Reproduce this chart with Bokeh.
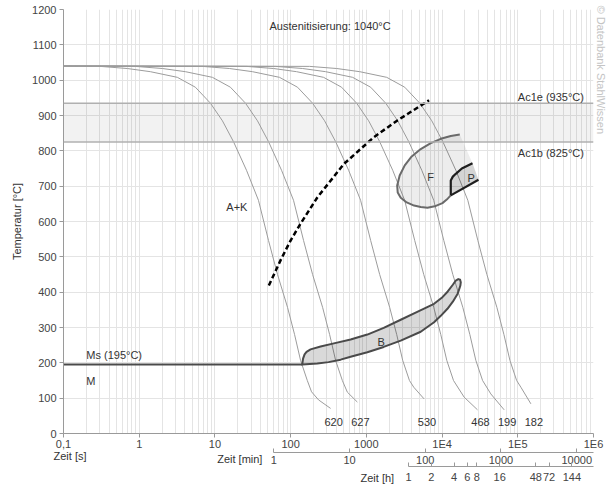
import math
import numpy as np
from bokeh.plotting import figure
from bokeh.models import (Range1d, LogAxis, LogScale, FixedTicker, Label, Span, Title,
                          CustomJSTickFormatter, BasicTickFormatter)
from bokeh.core.properties import value
from bokeh.embed import file_html
from bokeh.resources import INLINE

FONT = "Liberation Sans"

# ---------------- data ----------------
austenitizing_T = 1040
ac1e = 935
ac1b = 825
ms_T = 195

sec_ticks = [0.1, 1, 10, 100, 1000, 1e4, 1e5, 1e6]
sec_tick_labels = ["0,1", "1", "10", "100", "1000", "1E4", "1E5", "1E6"]
min_ticks = [1, 10, 100, 1000, 10000]
hour_ticks = [1, 2, 4, 6, 8, 16, 48, 72, 144]
temp_ticks = [0, 100, 200, 300, 400, 500, 600, 700, 800, 900, 1000, 1100, 1200]

# cooling curves: log10(time [s]) and temperature [°C]
curve_A_lt = [-1, -0.515, -0.157, 0.147, 0.504, 0.742, 0.940, 1.099, 1.245, 1.417, 1.575,
              1.708, 1.827, 1.959, 2.052, 2.131, 2.220, 2.276, 2.369, 2.528]
curve_A_T = [1040, 1039, 1033, 1024, 1008, 980, 935, 885, 826, 745, 660,
             546, 450, 357, 280, 207, 150, 118, 95, 71]
curve_B_lt = [-1, -0.052, 0.306, 0.610, 0.967, 1.205, 1.403, 1.562, 1.708, 1.880, 2.038,
              2.171, 2.290, 2.422, 2.515, 2.594, 2.683, 2.749, 2.881]
curve_B_T = [1040, 1039, 1033, 1024, 1008, 980, 935, 885, 826, 745, 660,
             546, 450, 357, 280, 207, 150, 117, 89]
curve_C_lt = [-1, 0.834, 1.192, 1.496, 1.853, 2.091, 2.289, 2.448, 2.594, 2.766, 2.924,
              3.057, 3.176, 3.308, 3.401, 3.480, 3.569, 3.626, 3.762]
curve_C_T = [1040, 1039, 1033, 1024, 1008, 980, 935, 885, 826, 745, 660,
             546, 450, 357, 280, 207, 150, 131, 98]
curve_D_lt = [-1, 1.416, 1.774, 2.078, 2.435, 2.673, 2.871, 3.030, 3.176, 3.348, 3.506,
              3.639, 3.758, 3.890, 3.983, 4.062, 4.151, 4.291, 4.468]
curve_D_T = [1040, 1039, 1033, 1024, 1008, 980, 935, 885, 826, 745, 660,
             546, 450, 357, 280, 207, 150, 103, 67]
curve_E_lt = [-1, 1.800, 2.158, 2.462, 2.819, 3.057, 3.255, 3.414, 3.560, 3.732, 3.890,
              4.023, 4.142, 4.274, 4.367, 4.446, 4.535, 4.644, 4.820]
curve_E_T = [1040, 1039, 1033, 1024, 1008, 980, 935, 885, 826, 745, 660,
             546, 450, 357, 280, 207, 150, 112, 67]
curve_F_lt = [-1, 2.250, 2.608, 2.912, 3.269, 3.507, 3.705, 3.864, 4.010, 4.182, 4.340,
              4.473, 4.592, 4.724, 4.817, 4.896, 4.985, 5.041, 5.173]
curve_F_T = [1040, 1039, 1033, 1024, 1008, 980, 935, 885, 826, 745, 660,
             546, 450, 357, 280, 207, 150, 131, 84]
hardness = ["620", "627", "530", "468", "199", "182"]

# critical cooling (dashed) line
crit_lt = [1.712, 1.866, 1.999, 2.131, 2.352, 2.704, 3.101, 3.410, 3.828]
crit_T = [419, 490, 546, 594, 668, 763, 839, 886, 943]

# bainite region outline (upper edge, tip, lower edge)
bain_lt = [2.153, 2.164, 2.184, 2.210, 2.263, 2.396, 2.571, 2.792, 3.013, 3.229, 3.454,
           3.679, 3.894, 3.996, 4.075, 4.142, 4.181, 4.214, 4.238, 4.247, 4.241, 4.221,
           4.204, 4.142, 4.071, 3.983, 3.894, 3.718, 3.454, 3.229, 3.013, 2.792, 2.660,
           2.501, 2.352, 2.153]
bain_T = [195, 212, 224, 231, 238, 246, 255, 266, 280, 299, 322,
          345, 367, 384, 402, 421, 433, 437, 435, 428, 418, 405,
          395, 373, 353, 333, 315, 288, 263, 245, 230, 217, 209,
          202, 198, 195]

# ferrite region outline (open on the right)
ferr_lt = [4.234, 4.115, 3.983, 3.851, 3.718, 3.599, 3.507, 3.440, 3.407, 3.414, 3.454,
           3.533, 3.630, 3.718, 3.807, 3.903, 4.005, 4.062, 4.115]
ferr_T = [846, 842, 834, 822, 805, 784, 759, 730, 702, 682, 667,
          654, 645, 641, 639, 643, 652, 662, 674]

# pearlite region: upper boundary and lower boundary
pearl_up_lt = [4.115, 4.115, 4.142, 4.181, 4.261, 4.402]
pearl_up_T = [674, 716, 727, 735, 750, 765]
pearl_lo_lt = [4.115, 4.481]
pearl_lo_T = [674, 718]

# ---------------- figure ----------------
p = figure(width=610, height=484, x_axis_type="log",
           x_range=Range1d(0.1, 1e6), y_range=Range1d(0, 1200),
           output_backend="svg", toolbar_location=None,
           min_border_left=63, min_border_right=17, min_border_top=9, min_border_bottom=51)
p.outline_line_color = None
p.background_fill_color = "white"
p.border_fill_color = "white"

minor = [k * 10.0 ** n for n in range(-1, 6) for k in range(2, 10)]
p.xaxis[0].ticker = FixedTicker(ticks=sec_ticks, minor_ticks=minor)
p.xaxis[0].formatter = CustomJSTickFormatter(
    args=dict(tk=sec_ticks, lb=sec_tick_labels),
    code="""
    let best = 0, bd = 1e9;
    for (let i = 0; i < tk.length; i++) {
        const d = Math.abs(Math.log10(tk[i]) - Math.log10(tick));
        if (d < bd) { bd = d; best = i; }
    }
    return lb[best];
    """)
p.yaxis[0].ticker = FixedTicker(ticks=temp_ticks)

for ax in [p.xaxis[0], p.yaxis[0]]:
    ax.axis_line_color = "#9a9a9a"
    ax.major_tick_line_color = "#9a9a9a"
    ax.minor_tick_line_color = None
    ax.major_tick_out = 4
    ax.major_tick_in = 0
    ax.major_label_text_font = FONT
    ax.major_label_text_font_size = "11px"
    ax.major_label_text_color = "#444444"
p.xaxis[0].major_label_standoff = 0
p.yaxis[0].major_label_standoff = 3
p.yaxis[0].axis_label = "Temperatur [°C]"
p.yaxis[0].axis_label_text_font = FONT
p.yaxis[0].axis_label_text_font_size = "11px"
p.yaxis[0].axis_label_text_font_style = "normal"
p.yaxis[0].axis_label_text_color = "#333333"
p.yaxis[0].axis_label_standoff = 6

p.xgrid.grid_line_color = "#e4e4e4"
p.xgrid.minor_grid_line_color = "#e4e4e4"
p.ygrid.grid_line_color = "#e4e4e4"

# extra time axes
p.extra_x_ranges = {"min": Range1d(0.1 / 60, 1e6 / 60), "h": Range1d(0.1 / 3600, 1e6 / 3600)}
p.extra_x_scales = {"min": LogScale(), "h": LogScale()}
ax_min = LogAxis(x_range_name="min", ticker=FixedTicker(ticks=min_ticks),
                 formatter=BasicTickFormatter(use_scientific=False, precision=0),
                 bounds=(1, 1e6 / 60))
ax_h = LogAxis(x_range_name="h", ticker=FixedTicker(ticks=hour_ticks),
               formatter=BasicTickFormatter(use_scientific=False, precision=0),
               bounds=(1, 1e6 / 3600))
for ax, so in [(ax_min, 3), (ax_h, 6)]:
    ax.axis_line_color = "#9a9a9a"
    ax.major_tick_line_color = "#9a9a9a"
    ax.minor_tick_line_color = None
    ax.major_tick_out = 0
    ax.major_tick_in = 4
    ax.major_label_standoff = so
    ax.major_label_text_font = FONT
    ax.major_label_text_font_size = "11px"
    ax.major_label_text_color = "#444444"
    p.add_layout(ax, "below")

# axis titles as zero-thickness titles in the bottom panel, watermark on the right
def ttl(text, offset, standoff, lh=1.2, color="#333333"):
    return Title(text=text, align="left", vertical_align="middle", offset=offset,
                 standoff=standoff, text_font=FONT, text_font_size="11px",
                 text_font_style="normal", text_color=color, text_line_height=lh)

t_s = ttl("\nZeit [s]", -10, -21.7, lh=0.6)
t_min = ttl("\nZeit [min]", 153.7, -26.6, lh=1.0)
t_h = ttl("Zeit [h]\n", 297, -25.4, lh=0.9)
main_ax = p.below[0]
p.below = [main_ax, t_s, t_min, ax_min, ax_h, t_h]
p.add_layout(ttl("© Datenbank StahlWissen", -4, 0, color="#c4c4c4"), "right")

# Ac1 band
p.varea(x=[0.1, 1e6], y1=[ac1b, ac1b], y2=[ac1e, ac1e], fill_color="black", fill_alpha=0.05)
for yv in (ac1e, ac1b):
    p.add_layout(Span(location=yv, dimension="width", line_color="#b0b0b0", line_width=1.5))

# cooling curves
for lt, T in [(curve_A_lt, curve_A_T), (curve_B_lt, curve_B_T), (curve_C_lt, curve_C_T),
              (curve_D_lt, curve_D_T), (curve_E_lt, curve_E_T), (curve_F_lt, curve_F_T)]:
    p.line([10 ** v for v in lt], T, line_color="#9c9c9c", line_width=1)

ends = [10 ** c[-1] for c in (curve_A_lt, curve_B_lt, curve_C_lt, curve_D_lt, curve_E_lt, curve_F_lt)]
p.text(x=ends, y=[33] * len(ends), text=hardness, x_offset=3,
       text_align="center", text_baseline="middle", text_font=value(FONT),
       text_font_size="11px", text_color="#333333")

# regions
ferr_poly_lt = ferr_lt + pearl_up_lt[1:]
ferr_poly_T = ferr_T + pearl_up_T[1:]
p.patch([10 ** v for v in ferr_poly_lt], ferr_poly_T, fill_color="black", fill_alpha=0.07, line_color=None)
pearl_poly_lt = pearl_up_lt + pearl_lo_lt[::-1][:-1]
pearl_poly_T = pearl_up_T + pearl_lo_T[::-1][:-1]
p.patch([10 ** v for v in pearl_poly_lt], pearl_poly_T, fill_color="black", fill_alpha=0.17, line_color=None)
p.line([10 ** v for v in ferr_lt], ferr_T, line_color="#6a6a6a", line_width=2)
p.line([10 ** v for v in pearl_up_lt], pearl_up_T, line_color="#1e1e1e", line_width=2.2)
p.line([10 ** v for v in pearl_lo_lt], pearl_lo_T, line_color="#1e1e1e", line_width=2.2)

p.patch([10 ** v for v in bain_lt], bain_T, fill_color="black", fill_alpha=0.15,
        line_color="#4a4a4a", line_width=2, line_join="round")

# Ms line
p.line([0.1, 10 ** bain_lt[0]], [ms_T, ms_T], line_color="#4a4a4a", line_width=2)

# critical cooling curve
p.line([10 ** v for v in crit_lt], crit_T, line_color="black", line_width=2.5, line_dash="5 3")

# texts inside the frame
def lab(x, y, t, align="left", color="#333333"):
    p.add_layout(Label(x=x, y=y, text=t, text_align=align, text_baseline="middle",
                       text_font=FONT, text_font_size="11px", text_color=color))

lab(52.6, 1152, "Austenitisierung: " + str(austenitizing_T) + "°C")
lab(7.48e5, 953, "Ac1e (" + str(ac1e) + "°C)", align="right")
lab(7.48e5, 794, "Ac1b (" + str(ac1b) + "°C)", align="right")
lab(19.5, 641, "A+K", align="center")
lab(7080, 725, "F", align="center")
lab(24300, 722, "P", align="center")
lab(1570, 258, "B", align="center")
lab(0.2, 221, "Ms (" + str(ms_T) + "°C)")
lab(0.2, 150, "M")

open("out.html", "w").write(file_html(p, INLINE))
